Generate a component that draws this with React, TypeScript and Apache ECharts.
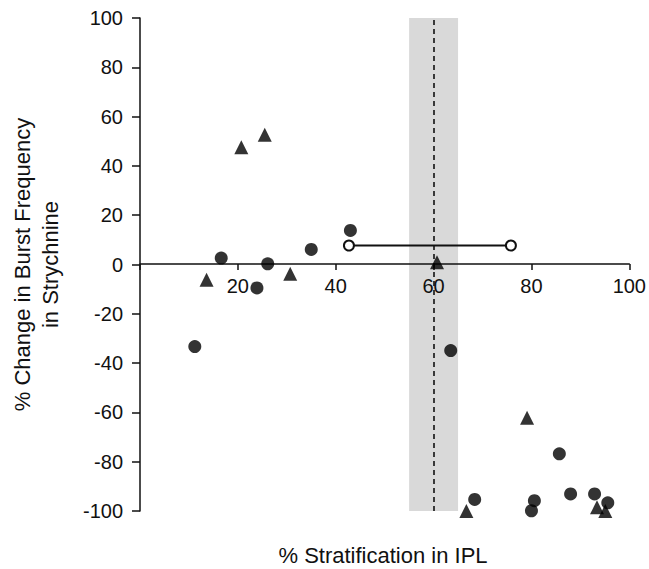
import React, { useEffect, useRef } from "react";
import * as echarts from "echarts";

const circleX = [11.2, 16.6, 23.9, 26.1, 35.0, 43.0, 63.5, 68.4, 80.6, 80.0, 85.7, 88.0, 92.9, 95.6];
const circleY = [-33.3, 2.6, -9.5, 0.3, 6.1, 13.8, -34.9, -95.3, -95.8, -99.9, -76.8, -93.1, -93.1, -96.7];
const triangleX = [13.6, 20.7, 25.5, 30.7, 60.7, 66.7, 79.1, 93.4, 95.1];
const triangleY = [-6.2, 47.6, 52.6, -3.8, 0.9, -100, -62.2, -98.5, -100];
const rangeX = [42.7, 75.8];
const rangeY = [7.7, 7.7];
const bandX = [55, 65];
const meanX = 60;
const xTicks = [0, 20, 40, 60, 80, 100];
const yTicks = [-100, -80, -60, -40, -20, 0, 20, 40, 60, 80, 100];

const FONT = "'Liberation Sans', Arial, Helvetica, sans-serif";
const INK = "#111";

export default function App() {
  const ref = useRef<HTMLDivElement>(null);
  useEffect(() => {
    if (!ref.current) return;
    const chart = echarts.init(ref.current, undefined, { renderer: "svg" });
    chart.setOption({
      animation: false,
      backgroundColor: "#fff",
      grid: { left: 136, right: 19, top: 18, bottom: 58 },
      xAxis: {
        type: "value",
        min: xTicks[0],
        max: xTicks[xTicks.length - 1],
        interval: 20,
        z: 3,
        offset: -247,
        splitLine: { show: false },
        axisLine: { onZero: false, lineStyle: { color: INK, width: 1.5 } },
        axisTick: { show: true, length: 6, lineStyle: { color: INK, width: 1.5 } },
        axisLabel: {
          margin: 12,
          fontSize: 20,
          color: INK,
          fontFamily: FONT,
          formatter: (v: number) => (v === 0 ? "" : String(v)),
        },
      },
      yAxis: {
        type: "value",
        min: yTicks[0],
        max: yTicks[yTicks.length - 1],
        interval: 20,
        z: 3,
        splitLine: { show: false },
        axisLine: { onZero: false, lineStyle: { color: INK, width: 1.5 } },
        axisTick: { show: true, length: 8, lineStyle: { color: INK, width: 1.5 } },
        axisLabel: { margin: 17, fontSize: 20, color: INK, fontFamily: FONT },
        name: "% Change in Burst Frequency\nin Strychnine",
        nameLocation: "middle",
        nameGap: 76,
        nameTextStyle: { fontSize: 22, color: INK, fontFamily: FONT, lineHeight: 28 },
      },
      graphic: [
        {
          type: "text",
          x: 383,
          y: 544,
          style: {
            text: "% Stratification in IPL",
            fontSize: 22,
            fill: INK,
            fontFamily: FONT,
            align: "center",
            verticalAlign: "top",
          },
        },
      ],
      series: [
        {
          type: "scatter",
          data: [],
          z: 1,
          silent: true,
          markArea: {
            silent: true,
            itemStyle: { color: "#d9d9d9" },
            data: [[{ xAxis: bandX[0] }, { xAxis: bandX[1] }]],
          },
        },
        {
          type: "scatter",
          data: [],
          z: 4,
          silent: true,
          markLine: {
            silent: true,
            symbol: "none",
            label: { show: false },
            lineStyle: { color: INK, type: [5, 4], width: 1.6 },
            data: [{ xAxis: meanX }],
          },
        },
        {
          type: "line",
          z: 5,
          data: rangeX.map((x, i) => [x, rangeY[i]]),
          symbol: "circle",
          symbolSize: 10,
          showSymbol: true,
          lineStyle: { color: INK, width: 2 },
          itemStyle: { color: "#fff", borderColor: INK, borderWidth: 2 },
        },
        {
          type: "scatter",
          z: 6,
          data: circleX.map((x, i) => [x, circleY[i]]),
          symbol: "circle",
          symbolSize: 13,
          itemStyle: { color: "#000" },
        },
        {
          type: "scatter",
          z: 6,
          data: triangleX.map((x, i) => [x, triangleY[i]]),
          symbol: "triangle",
          symbolSize: 14,
          itemStyle: { color: "#000" },
        },
      ],
    });
    return () => chart.dispose();
  }, []);
  return (
    <div
      ref={ref}
      style={{ position: "fixed", left: 0, top: 0, width: 649, height: 569, background: "#fff" }}
    />
  );
}
